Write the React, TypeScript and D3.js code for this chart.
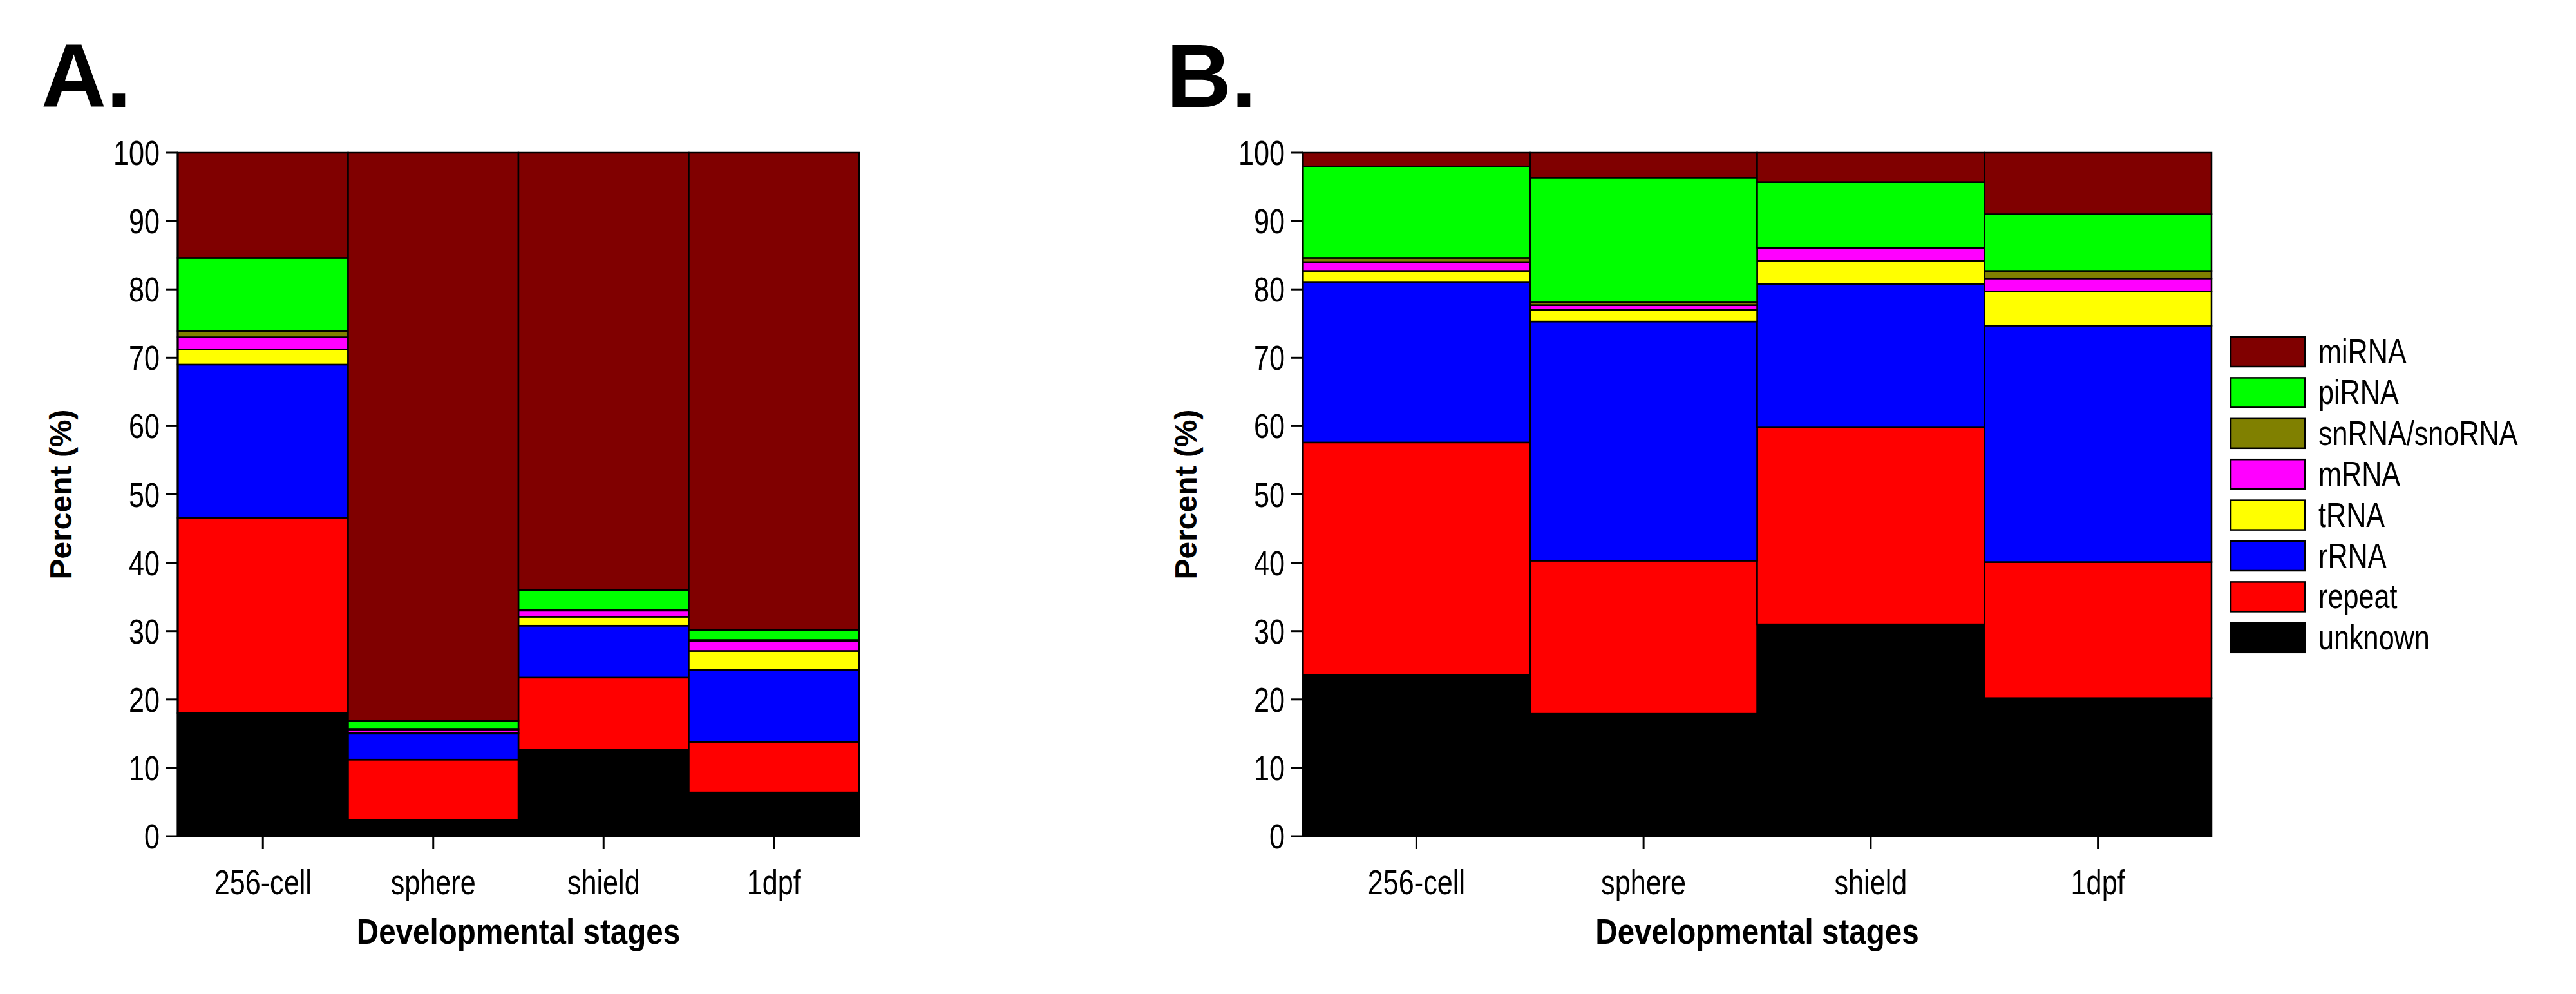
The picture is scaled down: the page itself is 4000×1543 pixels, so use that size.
import React from "react";
import * as d3 from "d3";

const stages = ["256-cell", "sphere", "shield", "1dpf"];
const types = ["unknown", "repeat", "rRNA", "tRNA", "mRNA", "snRNA/snoRNA", "piRNA", "miRNA"];
const colors = ["#000000", "#ff0000", "#0000ff", "#ffff00", "#ff00ff", "#808000", "#00ff00", "#800000"];
const yTicks = [0, 10, 20, 30, 40, 50, 60, 70, 80, 90, 100];

// rows: stage, columns: types order above
const panelA = [
  [18.0, 28.6, 22.4, 2.2, 1.8, 0.9, 10.7, 15.4],
  [2.4, 8.8, 3.8, 0.1, 0.5, 0.1, 1.2, 83.1],
  [12.7, 10.5, 7.6, 1.3, 0.9, 0.1, 2.9, 64.0],
  [6.4, 7.4, 10.5, 2.8, 1.4, 0.2, 1.5, 69.8],
];
const panelB = [
  [23.6, 34.0, 23.5, 1.6, 1.3, 0.6, 13.4, 2.0],
  [17.9, 22.4, 35.0, 1.7, 0.7, 0.4, 18.2, 3.7],
  [31.0, 28.8, 21.0, 3.4, 1.8, 0.1, 9.6, 4.3],
  [20.2, 19.9, 34.6, 5.0, 1.9, 1.1, 8.3, 9.0],
];

const FONT = "'Liberation Sans', Arial, sans-serif";
const top = 237, bottom = 1298;

function NText({ x, y, children, anchor = "start", size = 52, bold = false, sx = 0.8 }: any) {
  return (
    <text transform={`translate(${x},${y}) scale(${sx},1)`} textAnchor={anchor} fontFamily={FONT}
      fontWeight={bold ? "bold" : "normal"} fontSize={size}>{children}</text>
  );
}

function Panel({ data, left, right, label }: { data: number[][]; left: number; right: number; label: string }) {
  const x = d3.scaleBand().domain(stages).range([left, right]).padding(0);
  const y = d3.scaleLinear().domain([0, 100]).range([bottom, top]);
  const rows = data.map((r, i) => {
    const o: any = { stage: stages[i] };
    types.forEach((t, j) => (o[t] = r[j]));
    return o;
  });
  const series = d3.stack<any>().keys(types)(rows);
  return (
    <g>
      <text x={left - 212} y={166} fontFamily={FONT} fontWeight="bold" fontSize={140}>{label}</text>
      {series.map((s, si) =>
        s.map((d, di) => (
          <rect key={si + "-" + di} x={x(stages[di])} width={x.bandwidth()} y={y(d[1])} height={Math.max(0, y(d[0]) - y(d[1]))}
            fill={colors[si]} stroke="#000" strokeWidth={2.5} />
        ))
      )}
      <line x1={left} x2={left} y1={top} y2={bottom} stroke="#000" strokeWidth={3} />
      <line x1={left} x2={right} y1={bottom} y2={bottom} stroke="#000" strokeWidth={3} />
      {yTicks.map((t) => (
        <g key={t}>
          <line x1={left - 18} x2={left} y1={y(t)} y2={y(t)} stroke="#000" strokeWidth={3} />
          <NText x={left - 28} y={y(t) + 19} anchor="end" size={54}>{t}</NText>
        </g>
      ))}
      {stages.map((s) => (
        <g key={s}>
          <line x1={x(s)! + x.bandwidth() / 2} x2={x(s)! + x.bandwidth() / 2} y1={bottom} y2={bottom + 20} stroke="#000" strokeWidth={3} />
          <NText x={x(s)! + x.bandwidth() / 2} y={bottom + 90} anchor="middle" size={54}>{s}</NText>
        </g>
      ))}
      <text transform={`translate(${left - 165},${(top + bottom) / 2}) rotate(-90)`} textAnchor="middle" fontFamily={FONT} fontWeight="bold" fontSize={48}>Percent (%)</text>
      <NText x={(left + right) / 2} y={1465} anchor="middle" size={56} bold sx={0.85}>Developmental stages</NText>
    </g>
  );
}

export default function App() {
  const legendOrder = types.map((t, i) => i).reverse();
  return (
    <svg width={4000} height={1543} style={{ display: "block", margin: -8 }}>
      <rect width={4000} height={1543} fill="#fff" />
      <Panel data={panelA} left={276} right={1334} label="A." />
      <Panel data={panelB} left={2023} right={3434} label="B." />
      {legendOrder.map((i, k) => (
        <g key={i}>
          <rect x={3464} y={523 + k * 63.4} width={115} height={46} fill={colors[i]} stroke="#000" strokeWidth={2.5} />
          <NText x={3600} y={546 + k * 63.4 + 18} size={54}>{types[i]}</NText>
        </g>
      ))}
    </svg>
  );
}
